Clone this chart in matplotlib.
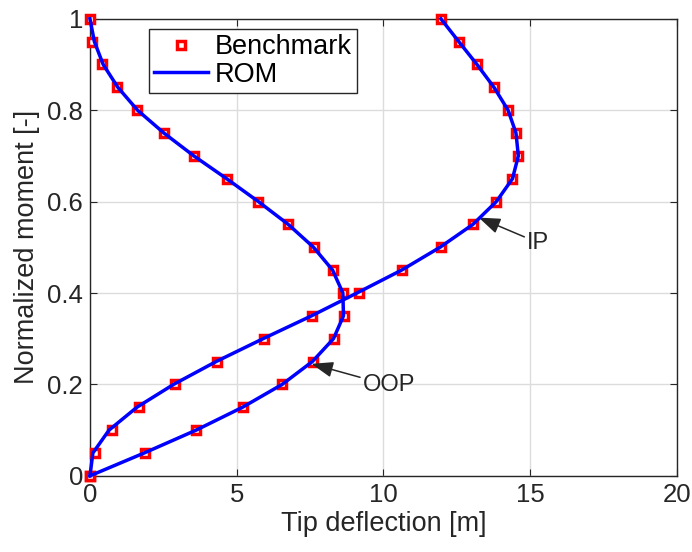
import numpy as np
from matplotlib import pyplot as plt

plt.rcParams["font.family"] = ["Liberation Sans", "DejaVu Sans"]

# normalized moment levels
moment = [0.0, 0.05, 0.1, 0.15, 0.2, 0.25, 0.3, 0.35, 0.4, 0.45, 0.5,
          0.55, 0.6, 0.65, 0.7, 0.75, 0.8, 0.85, 0.9, 0.95, 1.0]

# out-of-plane tip deflection [m]
oop_bench = [0.0, 1.87, 3.63, 5.22, 6.56, 7.61, 8.31, 8.65, 8.63, 8.27, 7.62,
             6.76, 5.74, 4.66, 3.54, 2.52, 1.62, 0.91, 0.40, 0.08, 0.0]
oop_rom = [0.0, 1.85, 3.62, 5.20, 6.55, 7.58, 8.30, 8.64, 8.62, 8.27, 7.62,
           6.76, 5.74, 4.66, 3.54, 2.52, 1.62, 0.95, 0.45, 0.15, 0.0]

# in-plane tip deflection [m]
ip_bench = [0.0, 0.17, 0.76, 1.68, 2.90, 4.34, 5.93, 7.57, 9.16, 10.65, 11.95,
            13.06, 13.83, 14.37, 14.59, 14.51, 14.25, 13.77, 13.19, 12.57, 11.96]
ip_rom = [0.0, 0.10, 0.65, 1.60, 2.85, 4.30, 5.90, 7.55, 9.10, 10.62, 11.93,
          13.05, 13.85, 14.40, 14.60, 14.52, 14.25, 13.77, 13.19, 12.57, 11.96]

txt = "#262626"

fig = plt.figure(figsize=(6.92, 5.52), dpi=100)
ax = fig.add_axes([0.130, 0.138, 0.848, 0.828])

mk = dict(ls="none", marker="s", ms=5.5, mfc="white", mec="red", mew=2.5, clip_on=False, zorder=3)
ax.plot(oop_bench, moment, label="Benchmark", **mk)
ax.plot(ip_bench, moment, **mk)
ax.plot(oop_rom, moment, "-", color="blue", lw=2.5, label="ROM", zorder=4, clip_on=False)
ax.plot(ip_rom, moment, "-", color="blue", lw=2.5, zorder=4, clip_on=False)

# annotations with arrows
arrow = dict(arrowstyle="-|>,head_length=1.1,head_width=0.4", color=txt, lw=1.1,
             mutation_scale=12, shrinkA=0, shrinkB=0)
ax.annotate("OOP", xy=(7.55, 0.245), xytext=(9.3, 0.198), fontsize=17, color=txt,
            ha="left", va="center", arrowprops=arrow)
ax.annotate("IP", xy=(13.25, 0.565), xytext=(14.9, 0.51), fontsize=17, color=txt,
            ha="left", va="center", arrowprops=arrow)

ax.set_xlim(0, 20)
ax.set_ylim(0, 1)
ax.set_xticks([0, 5, 10, 15, 20])
ax.set_yticks([0, 0.2, 0.4, 0.6, 0.8, 1])
ax.set_yticklabels(["0", "0.2", "0.4", "0.6", "0.8", "1"])
ax.tick_params(direction="in", top=True, right=True, labelsize=18.5, labelcolor=txt,
               color=txt, length=5, pad=5)
ax.grid(True, color="#dcdcdc", lw=1)
ax.set_axisbelow(True)
for s in ax.spines.values():
    s.set_color(txt)
    s.set_linewidth(1)

ax.set_xlabel("Tip deflection [m]", fontsize=19.5, color=txt, labelpad=3)
ax.set_ylabel("Normalized moment [-]", fontsize=19.5, color=txt, labelpad=5)

leg = ax.legend(loc="upper left", bbox_to_anchor=(0.1, 0.978), borderaxespad=0,
                fontsize=19.5, fancybox=False, framealpha=1, edgecolor=txt,
                handlelength=2.0, handletextpad=0.25, borderpad=0.2, labelspacing=0.05)
leg.get_frame().set_linewidth(1)

plt.savefig("out.png", dpi=100)
